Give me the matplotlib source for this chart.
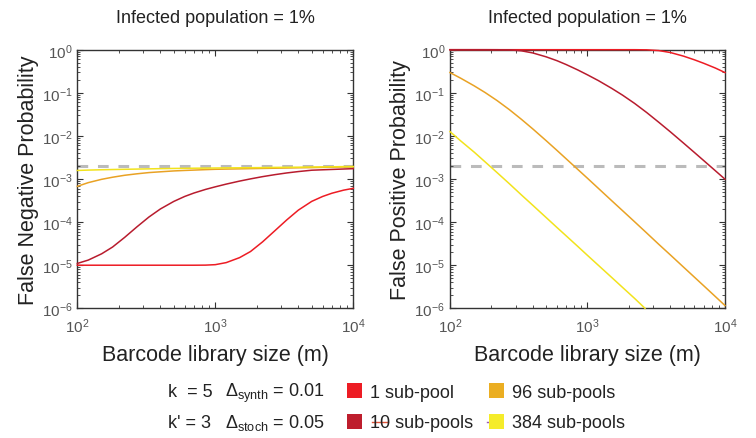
import matplotlib
matplotlib.use("Agg")
import matplotlib.pyplot as plt
from matplotlib.patches import Patch
from matplotlib.lines import Line2D

plt.rcParams['font.family'] = ['Liberation Sans', 'DejaVu Sans']
plt.rcParams['mathtext.fontset'] = 'custom'
plt.rcParams['mathtext.rm'] = 'Liberation Sans'
plt.rcParams['mathtext.it'] = 'Liberation Sans'

# barcode library size (m)
m = [100, 120, 150, 180, 220, 270, 330, 400, 500, 600, 700, 850, 1000,
     1200, 1500, 1800, 2200, 2700, 3300, 4000, 5000, 6000, 7000, 8500, 10000]

# false negative probability (left panel)
fn_1 = [1e-5, 1e-5, 1e-5, 1e-5, 1e-5, 1e-5, 1e-5, 1e-5, 1e-5, 1e-5, 1e-5, 1.005e-5, 1.03e-5,
        1.15e-5, 1.5e-5, 2.08e-5, 3.48e-5, 6.3e-5, 1.13e-4, 1.9e-4, 3.03e-4, 3.94e-4,
        4.68e-4, 5.51e-4, 6.08e-4]
fn_10 = [1.1e-5, 1.315e-5, 1.84e-5, 2.64e-5, 4.41e-5, 7.74e-5, 1.31e-4, 2.02e-4, 3.02e-4,
         3.94e-4, 4.73e-4, 5.74e-4, 6.59e-4, 7.62e-4, 8.95e-4, 1.007e-3, 1.135e-3, 1.262e-3,
         1.384e-3, 1.489e-3, 1.6e-3, 1.637e-3, 1.667e-3, 1.706e-3, 1.738e-3]
fn_96 = [6.76e-4, 8.24e-4, 9.84e-4, 1.1e-3, 1.22e-3, 1.32e-3, 1.41e-3, 1.47e-3, 1.54e-3,
         1.58e-3, 1.61e-3, 1.65e-3, 1.68e-3, 1.7e-3, 1.72e-3, 1.74e-3, 1.76e-3, 1.78e-3,
         1.8e-3, 1.82e-3, 1.84e-3, 1.86e-3, 1.88e-3, 1.9e-3, 1.92e-3]
fn_384 = [1.58e-3, 1.61e-3, 1.64e-3, 1.66e-3, 1.68e-3, 1.7e-3, 1.72e-3, 1.74e-3, 1.76e-3,
          1.77e-3, 1.78e-3, 1.79e-3, 1.8e-3, 1.81e-3, 1.82e-3, 1.83e-3, 1.84e-3, 1.86e-3,
          1.87e-3, 1.88e-3, 1.9e-3, 1.91e-3, 1.92e-3, 1.94e-3, 1.95e-3]

# false positive probability (right panel)
fp_1 = [1.0, 1.0, 1.0, 1.0, 1.0, 1.0, 1.0, 1.0, 1.0, 1.0, 1.0, 1.0, 1.0,
        1.0, 1.0, 1.0, 1.0, 0.993, 0.955, 0.861, 0.708, 0.582, 0.484, 0.376, 0.295]
fp_10 = [1.0, 1.0, 1.0, 1.0, 0.998, 0.991, 0.944, 0.841, 0.684, 0.556, 0.452, 0.339, 0.261,
         0.192, 0.1268, 0.0881, 0.0568, 0.0347, 0.0207, 0.01247, 6.79e-3, 4.11e-3, 2.68e-3,
         1.56e-3, 9.9e-4]
fp_96 = [0.295, 0.217, 0.145, 0.1016, 0.0661, 0.0408, 0.0244, 0.01455, 7.78e-3, 4.61e-3,
         2.94e-3, 1.67e-3, 1.04e-3, 6.07e-4, 3.14e-4, 1.84e-4, 1.02e-4, 5.56e-5, 3.05e-5,
         1.74e-5, 9.0e-6, 5.26e-6, 3.34e-6, 1.88e-6, 1.16e-6]
m_384 = [100, 120, 150, 180, 220, 270, 330, 400, 500, 600, 700, 850, 1000,
         1200, 1500, 1800, 2200, 2620]
fp_384 = [1.26e-2, 7.6e-3, 4.2e-3, 2.5e-3, 1.41e-3, 7.8e-4, 4.3e-4, 2.46e-4, 1.28e-4,
          7.5e-5, 4.8e-5, 2.73e-5, 1.69e-5, 9.95e-6, 5.2e-6, 3.05e-6, 1.7e-6, 1.0e-6]

threshold = 2e-3

labels = ['1 sub-pool', '10 sub-pools', '96 sub-pools', '384 sub-pools']
line_colors = ['#ED1C24', '#B81C2E', '#E9A224', '#F2E31C']
patch_colors = ['#ED1C24', '#BE1E2D', '#EBAE22', '#F5EC2A']

fig = plt.figure(figsize=(7.56, 4.39), dpi=100)
ax1 = fig.add_axes([0.1023, 0.2954, 0.365, 0.5891])
ax2 = fig.add_axes([0.5952, 0.2954, 0.3638, 0.5891])

def style(ax, ylabel):
    ax.set_xscale('log')
    ax.set_yscale('log')
    ax.set_xlim(1e2, 1e4)
    ax.set_ylim(1e-6, 1e0)
    ax.set_yticks([1e-6, 1e-5, 1e-4, 1e-3, 1e-2, 1e-1, 1e0])
    ax.set_title('Infected population = 1%', fontsize=13, color='#222222', pad=20)
    ax.set_xlabel('Barcode library size (m)', fontsize=15.5, color='#222222', labelpad=6)
    ax.set_ylabel(ylabel, fontsize=15.5, color='#222222', labelpad=2)
    ax.tick_params(which='both', direction='in', top=True, right=True,
                   colors='#333333', labelcolor='#555555', labelsize=11)
    ax.tick_params(which='major', length=4, width=0.8)
    ax.tick_params(which='minor', length=2, width=0.6)
    ax.tick_params(axis='x', pad=6)
    for s in ax.spines.values():
        s.set_color('#333333')
        s.set_linewidth(1.0)

for ax, series in [(ax1, [(m, fn_1), (m, fn_10), (m, fn_96), (m, fn_384)]),
                   (ax2, [(m, fp_1), (m, fp_10), (m, fp_96), (m_384, fp_384)])]:
    ax.axhline(threshold, color='#BBBBBB', lw=2.2, dashes=(3.5, 3.2), zorder=1)
    for (xs, vals), c in zip(series, line_colors):
        ax.plot(xs, vals, color=c, lw=1.1, zorder=3, clip_on=False)

style(ax1, 'False Negative Probability')
style(ax2, 'False Positive Probability')

fig.text(0.222, 0.1048, 'k  = 5', fontsize=13, color='#222222', va='center')
fig.text(0.222, 0.0364, "k' = 3", fontsize=13, color='#222222', va='center')
fig.text(0.297, 0.1048, r'$\Delta_{\rm synth}$ = 0.01', fontsize=13, color='#222222', va='center')
fig.text(0.297, 0.0364, r'$\Delta_{\rm stoch}$ = 0.05', fontsize=13, color='#222222', va='center')

handles = [Patch(facecolor=c, edgecolor='none') for c in patch_colors]
fig.legend(handles, labels, ncol=2, loc='center left', bbox_to_anchor=(0.459, 0.0706),
           frameon=False, fontsize=13, handlelength=0.85, handleheight=0.95,
           handletextpad=0.45, columnspacing=0.85, labelspacing=0.72,
           borderpad=0, borderaxespad=0, labelcolor='#222222')

# small stray legend line marks seen over the second row
fig.add_artist(Line2D([0.492, 0.513], [0.0364, 0.0364], color='#E0553A', lw=1.0))
fig.add_artist(Line2D([0.644, 0.649], [0.0364, 0.0364], color='#9B59B6', lw=1.0))

fig.savefig('out.png', dpi=100)
